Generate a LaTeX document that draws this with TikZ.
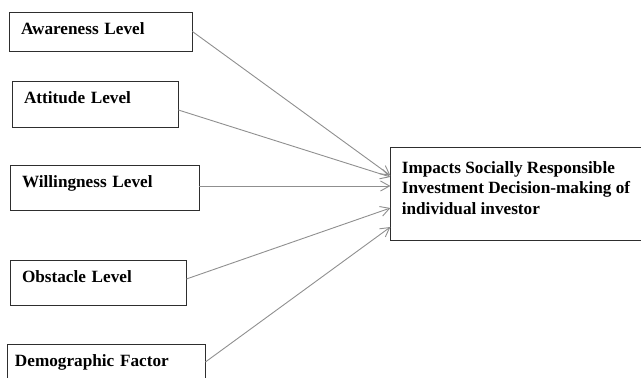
\documentclass[tikz,border=0pt]{standalone}
\usepackage{fontspec}
\setmainfont{Liberation Serif}
\usepackage{tikz}
\usetikzlibrary{arrows.meta}
\definecolor{color_box}{HTML}{2e2e2e}
\definecolor{color_link}{HTML}{8f8f8f}

\begin{document}
\begin{tikzpicture}[x=1pt, y=1pt, node distance=83pt, every node/.style={font=\fontsize{17.2}{20.5}\selectfont\bfseries}]
  \tikzset{ % Specifications for style of nodes:
      box/.style = {rectangle, draw=color_box, line width=0.8pt, align=left, inner xsep=12pt, inner ysep=10pt, text height=12pt},
      factor/.style = {box},
      impact/.style = {box, inner xsep=11pt, text height=57pt, text depth=16pt, minimum width=248pt},
      link/.style = {draw=color_link, line width=0.9pt, -{Straight Barb[length=9pt, width=10pt, line width=0.9pt]}},
  }
  \useasboundingbox (0,0) rectangle (641,-378);
  \node (awareness) [factor, text width=159pt, text depth=7pt] at (100.5,-31.5) {Awareness Level};
  \node (attitude) [factor, text width=142pt, text depth=14pt, below of=awareness, xshift=-5.5pt, yshift=10.5pt] {Attitude Level};
  \node (willingness) [factor, text width=165pt, text depth=13pt, below of=attitude, xshift=9.5pt, yshift=-0.5pt] {Willingness Level};
  \node (obstacle) [factor, text width=152pt, text depth=13pt, below of=willingness, xshift=-6.5pt, yshift=-12pt] {Obstacle Level};
  \node (demographic) [factor, inner xsep=8pt, text width=182pt, text depth=10pt, below of=obstacle, xshift=8pt, yshift=0.5pt] {Demographic Factor};

  \node (impacts) [impact, right of=willingness, xshift=328.5pt, yshift=-6pt] {Impacts Socially Responsible\\Investment Decision-making of\\individual investor};

  \draw[link] (awareness.east) -- ([yshift=18pt]impacts.west);
  \draw[link] ([yshift=-6pt]attitude.east) -- ([yshift=16.5pt]impacts.west);
  \draw[link] ([yshift=1.5pt]willingness.east) -- ([yshift=7.5pt]impacts.west);
  \draw[link] ([yshift=3.5pt]obstacle.east) -- ([yshift=-14.5pt]impacts.west);
  \draw[link] ([yshift=3pt]demographic.east) -- ([yshift=-33.5pt]impacts.west);
\end{tikzpicture}
\end{document}
